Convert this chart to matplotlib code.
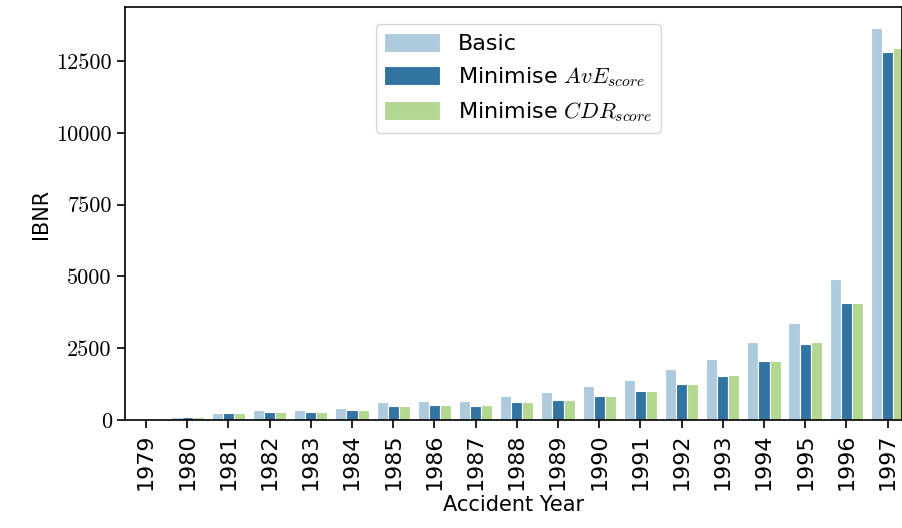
import matplotlib
matplotlib.use("Agg")
import matplotlib.pyplot as plt
import numpy as np

years = list(range(1979, 1998))
basic = [0, 115, 230, 335, 360, 430, 615, 650, 650, 850, 975, 1175, 1405, 1775, 2115, 2720, 3380, 4910, 13650]
ave = [0, 110, 230, 290, 290, 350, 475, 510, 500, 630, 710, 850, 1020, 1255, 1545, 2055, 2650, 4090, 12820]
cdr = [0, 110, 230, 290, 290, 350, 475, 510, 505, 630, 710, 850, 1020, 1255, 1580, 2070, 2700, 4090, 12960]

plt.rcParams['mathtext.fontset'] = 'cm'
plt.rcParams['font.family'] = ['DejaVu Sans']
fig = plt.figure(figsize=(9.02, 5.28), dpi=100)
ax = fig.add_axes([125/902, 1-420/528, 777/902, 413/528])
x = np.arange(len(years))
w = 0.27
cols = ['#aecbdd', '#3274a1', '#b3d690']
labels = ['Basic', r'Minimise $AvE_{score}$', r'Minimise $CDR_{score}$']
for i, (vals, c, l) in enumerate(zip([basic, ave, cdr], cols, labels)):
    ax.bar(x + (i-1)*w, vals, width=w, color=c, edgecolor='white', linewidth=0.8, label=l)
ax.set_xlim(-0.51, 18.35)
ax.set_ylim(0, 14380)
ax.set_xticks(x)
ax.set_xticklabels([str(y) for y in years], rotation=90, fontsize=16)
ax.set_yticks([0, 2500, 5000, 7500, 10000, 12500])
ax.set_yticklabels(['0', '2500', '5000', '7500', '10000', '12500'], fontsize=16, family='cmr10')
ax.tick_params(direction='out', length=6, width=1.2)
ax.set_xlabel('Accident Year', fontsize=15)
ax.set_ylabel('IBNR', fontsize=15)
for s in ax.spines.values():
    s.set_linewidth(1.2)
ax.legend(loc='upper center', bbox_to_anchor=(0.506, 0.985), fontsize=16, frameon=True,
          handlelength=2.5, handleheight=0.9, labelspacing=0.5)
fig.savefig('out.png', dpi=100)
